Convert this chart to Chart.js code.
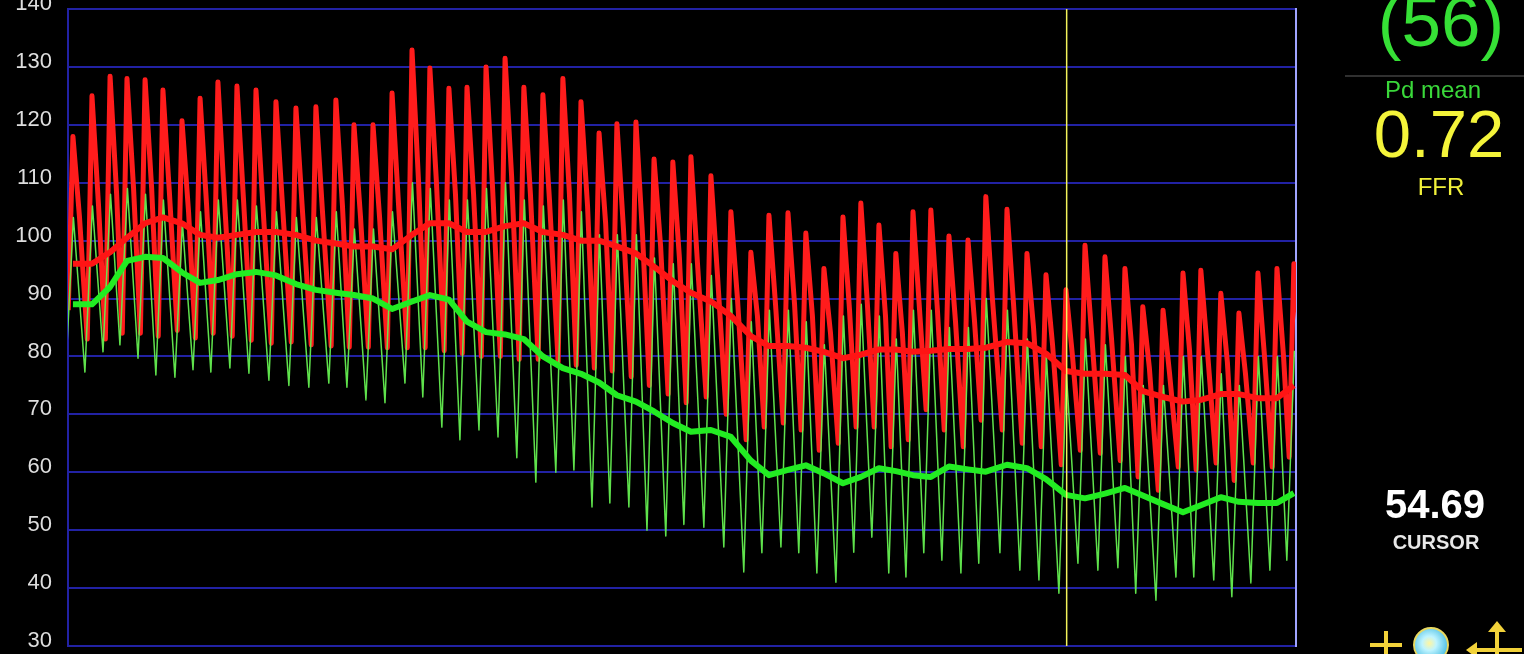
<!DOCTYPE html>
<html>
<head>
<meta charset="utf-8">
<title>Pa / Pd pressure recording</title>
<script src="https://cdn.jsdelivr.net/npm/chart.js@4.4.1/dist/chart.umd.min.js"></script>
<style>
  html, body { margin: 0; padding: 0; background: #000; }
  #wrap { position: relative; width: 1524px; height: 654px; overflow: hidden; background: #000; }
  #trace { position: absolute; left: 0; top: 0; }
  .lbl { position: absolute; width: 240px; text-align: center; white-space: nowrap;
         font-family: 'Liberation Sans', Arial, sans-serif; }
  #sep { position: absolute; left: 1345px; top: 75px; width: 179px; height: 2px; background: #303030; }
  #icons { position: absolute; left: 1360px; top: 615px; }
</style>
</head>
<body>
<div id="wrap">
  <canvas id="trace" width="1524" height="654"></canvas>

  <div class="lbl" style="left:1321px; top:-14px; font-size:71px; line-height:71px; color:#36e036;">(56)</div>
  <div id="sep"></div>
  <div class="lbl" style="left:1313px; top:78px; font-size:24px; line-height:24px; color:#3ad83a;">Pd mean</div>
  <div class="lbl" style="left:1319px; top:100px; font-size:67px; line-height:67px; color:#f4f43a;">0.72</div>
  <div class="lbl" style="left:1321px; top:175px; font-size:24px; line-height:24px; color:#f0f03a;">FFR</div>
  <div class="lbl" style="left:1315px; top:484px; font-size:40px; line-height:40px; font-weight:bold; color:#fff;">54.69</div>
  <div class="lbl" style="left:1316px; top:532px; font-size:20px; line-height:20px; font-weight:bold; color:#e8e8e8;">CURSOR</div>

  <svg id="icons" width="164" height="40" viewBox="0 0 164 40">
    <defs>
      <radialGradient id="globe" cx="0.45" cy="0.45" r="0.6">
        <stop offset="0" stop-color="#fff6a0"/>
        <stop offset="0.35" stop-color="#bff4ff"/>
        <stop offset="1" stop-color="#3fb8e0"/>
      </radialGradient>
    </defs>
    <!-- add-cursor icon -->
    <rect x="10" y="28" width="32" height="4" fill="#f2d23a"/>
    <rect x="24" y="16" width="4" height="30" fill="#f2d23a"/>
    <!-- zoom icon -->
    <circle cx="71" cy="30" r="17" fill="url(#globe)" stroke="#e8d860" stroke-width="2"/>
    <!-- pan icon -->
    <rect x="135" y="14" width="4" height="30" fill="#f2d23a"/>
    <polygon points="137,6 128,17 146,17" fill="#f2d23a"/>
    <rect x="114" y="33" width="48" height="4" fill="#f2d23a"/>
    <polygon points="106,35 117,27 117,43" fill="#f2d23a"/>
  </svg>
</div>

<script>
// Systolic peak times of each beat, seconds from the start of the window
const beatTimes = [
  0.21, 1.02, 1.79, 2.51, 3.28, 4.04, 4.85, 5.62, 6.38, 7.19,
  8.00, 8.85, 9.70, 10.55, 11.40, 12.17, 12.98, 13.79, 14.64, 15.40,
  16.21, 16.98, 17.79, 18.60, 19.40, 20.21, 21.06, 21.83, 22.60, 23.36,
  24.17, 24.94, 25.74, 26.51, 27.36, 28.21, 29.06, 29.83, 30.64, 31.40,
  32.17, 32.98, 33.74, 34.51, 35.23, 35.96, 36.72, 37.49, 38.30, 39.06,
  39.96, 40.81, 41.62, 42.47, 43.28, 44.13, 44.98, 45.74, 46.60, 47.45,
  48.21, 49.06, 49.83, 50.64, 51.45, 52.17
];

// Aortic pressure (Pa), mmHg per beat
const aoSystolic = [
  118, 125, 128.4, 128, 127.8, 126, 120.7, 124.6, 127.4, 126.7,
  126, 124, 122.9, 123.1, 124.3, 120, 120, 125.5, 132.9, 129.8,
  126.3, 126.5, 130, 131.5, 126.5, 125.2, 128, 124, 118.6, 120.2,
  120.5, 114.1, 113.6, 114.5, 111.2, 105, 98, 104.4, 104.8, 101.3,
  95.2, 104.1, 106.5, 102.7, 97.8, 105, 105.3, 100.8, 100.1, 107.6,
  105.4, 97.8, 94.1, 91.5, 99.2, 97.2, 95.2, 88.6, 88, 94.4,
  94.9, 90.9, 87.5, 94.4, 95.2, 96
];
const aoDiastolic = [
  88, 83, 83, 84, 84, 83.5, 84.5, 83.2, 84, 83.5,
  82.8, 82.3, 82.5, 82, 81.8, 81.6, 81.6, 81.5, 81.5, 81.5,
  81, 80.5, 80, 80, 79.5, 79.5, 79, 78.5, 78, 77.5,
  76.5, 75, 73.5, 72, 73, 70, 65.6, 67.8, 68.5, 67.3,
  63.8, 65, 67.8, 67.8, 64.4, 65.6, 70.8, 67.3, 64.4, 69,
  67.3, 65, 64.4, 61.3, 63.8, 63.3, 62, 59.2, 56.9, 60.9,
  60.4, 61.6, 58.6, 61.6, 60.9, 62.6
];
const aoNotch = [
  104, 106, 108, 109, 109, 108, 105, 106, 107, 107,
  107, 106, 105, 105, 106, 104, 104, 106, 110, 110,
  108, 108, 109, 111, 108, 107, 108, 106, 103, 102,
  101, 99, 97, 96, 94, 90, 87, 89, 89, 87,
  84, 88, 89, 87, 84, 88, 88, 86, 86, 90,
  89, 85, 82, 80, 84, 83, 82, 78, 77, 81,
  81, 79, 77, 80, 80, 82
];

// Distal pressure (Pd), mmHg per beat
const pdSystolic = [
  104, 106, 108, 109, 108, 107, 103, 105, 107, 107,
  106, 105, 104, 104, 105, 102, 102, 105, 110, 109,
  107, 107, 109, 110, 107, 106, 107, 105, 101, 101,
  101, 97, 96, 96, 94, 90, 86, 88, 88, 86,
  82, 87, 89, 87, 83, 88, 88, 85, 85, 90,
  88, 83, 80, 77, 83, 82, 80, 75, 75, 80,
  80, 77, 75, 80, 80, 81
];
const pdDiastolic = [
  78, 77.3, 80.8, 82, 79.7, 76.8, 76.4, 77.7, 77.3, 78,
  77.1, 75.9, 75, 74.7, 75.4, 74.7, 72.5, 72, 75.4, 73,
  67.8, 65.6, 67.3, 66.1, 62.5, 58.3, 60, 60.4, 54, 54.7,
  54, 50, 49, 51, 50.5, 47.1, 42.8, 46.1, 47.1, 46.1,
  42.6, 41, 46.2, 48.8, 42.6, 41.9, 46.1, 44.8, 42.6, 44.3,
  46.1, 43.1, 41.4, 39.1, 44.3, 43.1, 43.5, 39.1, 37.9, 41.9,
  41.9, 41.4, 38.5, 40.9, 43.1, 44.8
];

// Running means per beat
const aoMean = [
  96, 96, 98, 100.5, 103, 104, 103, 101, 100.5, 101,
  101.5, 101.5, 101, 100, 99.5, 99, 99, 98.5, 101, 103,
  103, 101.5, 101.5, 102.5, 103, 101.5, 101, 100, 100, 99,
  97.8, 95.5, 93, 91, 89.5, 87, 83.5, 81.8, 81.8, 81.5,
  80.8, 79.7, 80.3, 81.2, 81.2, 80.8, 81, 81.3, 81.3, 81.5,
  82.5, 82.3, 80.5, 77.5, 77, 77, 76.8, 74, 73, 72.2,
  72.5, 73.5, 73.5, 72.8, 72.8, 75
];
const pdMean = [
  89, 89, 92, 96.5, 97.2, 97, 94.5, 92.7, 93.2, 94.2,
  94.6, 94, 92.5, 91.5, 91, 90.6, 90, 88.2, 89.5, 90.6,
  89.8, 86, 84.2, 83.8, 83, 80, 78, 77, 75.5, 73.3,
  72.2, 70.5, 68.5, 67, 67.3, 66.1, 62, 59.5, 60.4, 61.2,
  59.8, 58.1, 59.2, 60.7, 60.2, 59.5, 59.2, 61, 60.5, 60.1,
  61.3, 60.7, 58.8, 56.1, 55.5, 56.3, 57.3, 56, 54.5, 53.1,
  54.3, 55.7, 54.9, 54.7, 54.7, 56.4
];

// Display window and cursor position
const windowSeconds = [0, 52.26];
const pressureRange = [30, 140];
const pressureStep = 10;
const cursorTime = 42.5;

// Beat timing of the waveform landmarks relative to the systolic peak (s)
const AO_UPSTROKE = 0.2, AO_NOTCH = 0.28, PD_UPSTROKE = 0.3, PD_PEAK = 0.02;

const aoTrace = [];
const pdTrace = [];
beatTimes.forEach((t, i) => {
  aoTrace.push({ x: t - AO_UPSTROKE, y: aoDiastolic[i] });
  aoTrace.push({ x: t, y: aoSystolic[i] });
  aoTrace.push({ x: t + AO_NOTCH, y: aoNotch[i] });
  pdTrace.push({ x: t - PD_UPSTROKE, y: pdDiastolic[i] });
  pdTrace.push({ x: t + PD_PEAK, y: pdSystolic[i] });
});
const aoMeanLine = beatTimes.map((t, i) => ({ x: t, y: aoMean[i] }));
const pdMeanLine = beatTimes.map((t, i) => ({ x: t, y: pdMean[i] }));
const cursorLine = [{ x: cursorTime, y: pressureRange[0] }, { x: cursorTime, y: pressureRange[1] }];

const GRID_BLUE = '#2222a4';

// keep the plot area flush with the canvas edges: no extra room for half tick labels
function noScalePadding(scale) {
  scale.paddingTop = 0;
  scale.paddingBottom = 0;
}

new Chart(document.getElementById('trace'), {
  type: 'line',
  data: {
    datasets: [
      { label: 'Cursor', data: cursorLine, borderColor: '#f2f25a', borderWidth: 1.5, order: 0 },
      { label: 'Pd mean', data: pdMeanLine, borderColor: '#22ec22', borderWidth: 6, order: 1 },
      { label: 'Pa mean', data: aoMeanLine, borderColor: '#ff1414', borderWidth: 6, order: 2 },
      { label: 'Pd', data: pdTrace, borderColor: 'rgba(100,238,80,0.95)', borderWidth: 1.5, order: 3 },
      { label: 'Pa', data: aoTrace, borderColor: '#ff1c1c', borderWidth: 5, order: 4 }
    ]
  },
  options: {
    responsive: false,
    animation: false,
    events: [],
    layout: { padding: { left: 0, right: 228, top: 9, bottom: 8 } },
    datasets: { line: { clip: 0, pointRadius: 0, tension: 0, borderJoinStyle: 'round' } },
    plugins: { legend: { display: false }, tooltip: { enabled: false } },
    scales: {
      x: { type: 'linear', min: windowSeconds[0], max: windowSeconds[1], display: false },
      y: {
        min: pressureRange[0], max: pressureRange[1],
        ticks: {
          stepSize: pressureStep, color: '#dedede', padding: 16, labelOffset: -5,
          font: { family: "'Liberation Sans', Arial, sans-serif", size: 22 }
        },
        grid: { color: GRID_BLUE, lineWidth: 2, drawTicks: false },
        border: { color: GRID_BLUE, width: 2 },
        afterFit(scale) { scale.width = 68; noScalePadding(scale); }
      },
      yRight: {
        position: 'right',
        min: pressureRange[0], max: pressureRange[1],
        ticks: { display: false },
        grid: { display: false, drawTicks: false },
        border: { color: '#a0a4ff', width: 2 },
        afterFit(scale) { scale.width = 0; noScalePadding(scale); }
      }
    }
  }
});
</script>
</body>
</html>
